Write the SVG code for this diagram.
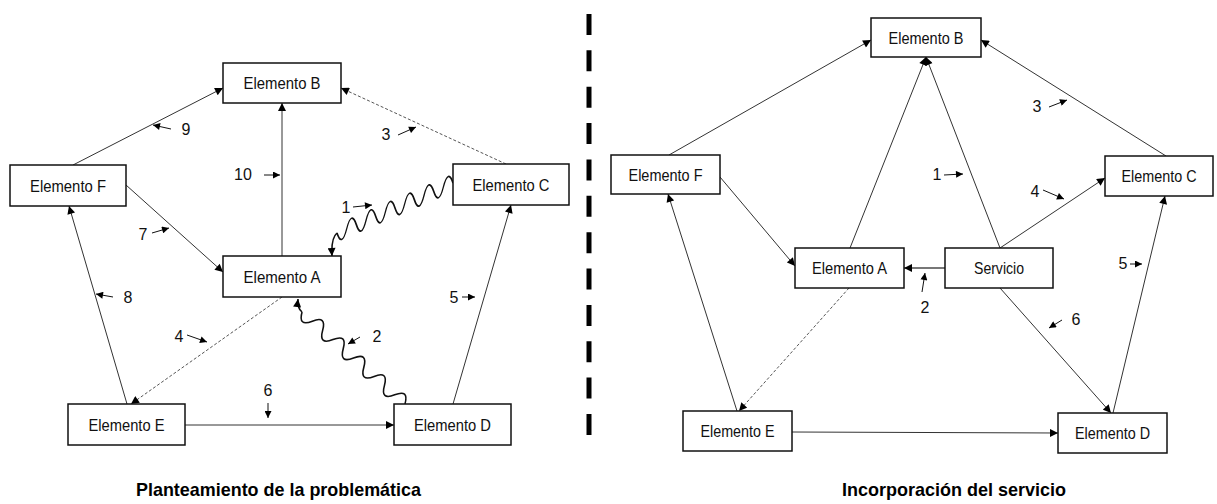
<svg xmlns="http://www.w3.org/2000/svg" width="1217" height="504" viewBox="0 0 1217 504">
  <style>
    .box { fill: #ffffff; stroke: #111111; stroke-width: 1.5; }
    .lbl { font-family: "Liberation Sans", Arial, sans-serif; font-size: 17px; fill: #111111; text-anchor: middle; }
    .num { font-family: "Liberation Sans", Arial, sans-serif; font-size: 16px; fill: #111111; text-anchor: middle; }
    .title { font-family: "Liberation Sans", Arial, sans-serif; font-size: 19px; font-weight: bold; fill: #000000; text-anchor: middle; }
    .edge { fill: none; stroke: #333333; stroke-width: 1; marker-end: url(#ah); }
    .dot { fill: none; stroke: #555555; stroke-width: 1; stroke-dasharray: 3 2; marker-end: url(#ah); }
    .wave { fill: none; stroke: #111111; stroke-width: 1.6; }
    .tick { fill: none; stroke: #111111; stroke-width: 1; marker-end: url(#sh); }
  </style>
  <defs>
    <marker id="ah" viewBox="0 0 10 10" refX="10" refY="5" markerWidth="9" markerHeight="8" markerUnits="userSpaceOnUse" orient="auto">
      <path d="M0,0 L10,5 L0,10 z" fill="#000000"/>
    </marker>
    <marker id="sh" viewBox="0 0 10 10" refX="10" refY="5" markerWidth="8" markerHeight="7" markerUnits="userSpaceOnUse" orient="auto">
      <path d="M0,0 L10,5 L0,10 z" fill="#000000"/>
    </marker>
  </defs>

  <rect width="1217" height="504" fill="#ffffff"/>

  <!-- dashed divider between the two panels -->
  <line x1="589" y1="14" x2="589" y2="435" stroke="#000000" stroke-width="5" stroke-dasharray="21 15.36"/>

  <!-- left panel connectors -->
  <g id="left-connectors">
    <path class="edge" d="M73,165 L223,88"/>
    <path class="edge" d="M282,256 L282,103"/>
    <path class="dot" d="M506,164 L341,88"/>
    <path class="edge" d="M126,185 L223,272"/>
    <path class="edge" d="M127,404 L69,206"/>
    <path class="dot" d="M282,297 L131,404"/>
    <path class="edge" d="M453,404 L511,205"/>
    <path class="edge" d="M185,425 L394,425"/>
    <!-- wavy link C to A: runs along the C-A direction, swings vertically -->
    <path class="wave" transform="matrix(-0.918,0.3955,0,1,453,183)" d="M0,0 q5.26,-17 10.53,0 t10.53,0 t10.53,0 t10.53,0 t10.53,0 t10.53,0 t10.53,0 t10.53,0 t10.53,0 t10.53,0 t10.53,0 t10.53,0"/>
    <path class="wave" d="M337,233 Q331,238 332,256" marker-end="url(#ah)"/>
    <!-- wavy link D to A -->
    <path class="wave" transform="translate(405,404) rotate(-138.2)" d="M0,0 q6.9,14 13.81,0 t13.81,0 t13.81,0 t13.81,0 t13.81,0 t13.81,0 t13.81,0 t13.81,0 t13.81,0 t13.81,0"/>
    <path class="wave" d="M302,312 Q297,308 298,299" marker-end="url(#ah)"/>
    <!-- numbered pointers -->
    <path class="tick" d="M171,129 L153,125"/>
    <path class="tick" d="M264,175 L280,175"/>
    <path class="tick" d="M398,135 L416,127"/>
    <path class="tick" d="M353,207 L372,205"/>
    <path class="tick" d="M152,233 L169,228"/>
    <path class="tick" d="M113,297 L96,294"/>
    <path class="tick" d="M187,335 L207,342"/>
    <path class="tick" d="M360,337 L348,344"/>
    <path class="tick" d="M462,297 L475,297"/>
    <path class="tick" d="M268,403 L268,418"/>
    <text class="num" x="186" y="135">9</text>
    <text class="num" x="243" y="180">10</text>
    <text class="num" x="386" y="140">3</text>
    <text class="num" x="346" y="213">1</text>
    <text class="num" x="143" y="240">7</text>
    <text class="num" x="128" y="303">8</text>
    <text class="num" x="179" y="342">4</text>
    <text class="num" x="377" y="342">2</text>
    <text class="num" x="454" y="303">5</text>
    <text class="num" x="268" y="396">6</text>
  </g>

  <!-- left panel nodes -->
  <g id="l-elemento-b"><rect class="box" x="223" y="63" width="118" height="40"/><text class="lbl" x="282" y="89" textLength="77" lengthAdjust="spacingAndGlyphs">Elemento B</text></g>
  <g id="l-elemento-f"><rect class="box" x="10" y="165" width="116" height="41"/><text class="lbl" x="68" y="191.5" textLength="76" lengthAdjust="spacingAndGlyphs">Elemento F</text></g>
  <g id="l-elemento-c"><rect class="box" x="453" y="164" width="116" height="41"/><text class="lbl" x="511" y="190.5" textLength="77" lengthAdjust="spacingAndGlyphs">Elemento C</text></g>
  <g id="l-elemento-a"><rect class="box" x="223" y="256" width="118" height="41"/><text class="lbl" x="282" y="282.5" textLength="77" lengthAdjust="spacingAndGlyphs">Elemento A</text></g>
  <g id="l-elemento-e"><rect class="box" x="68" y="404" width="117" height="41"/><text class="lbl" x="126.5" y="430.5" textLength="76" lengthAdjust="spacingAndGlyphs">Elemento E</text></g>
  <g id="l-elemento-d"><rect class="box" x="394" y="404" width="117" height="41"/><text class="lbl" x="452.5" y="430.5" textLength="77" lengthAdjust="spacingAndGlyphs">Elemento D</text></g>

  <!-- right panel connectors -->
  <g id="right-connectors">
    <path class="edge" d="M669,155 L871,40"/>
    <path class="edge" d="M850,248 L926,57"/>
    <path class="edge" d="M1000,248 L926,57"/>
    <path class="edge" d="M1166,156 L981,40"/>
    <path class="edge" d="M1000,248 L1105,178"/>
    <path class="edge" d="M720,177 L795,266"/>
    <path class="edge" d="M737,411 L668,194"/>
    <path class="dot" d="M849,288 L739,411"/>
    <path class="edge" d="M945,268 L904,268" style="stroke:#777777;stroke-width:2"/>
    <path class="edge" d="M1000,288 L1111,413"/>
    <path class="edge" d="M1113,413 L1165,196"/>
    <path class="edge" d="M792,432 L1058,433"/>
    <path class="tick" d="M944,175 L963,174"/>
    <path class="tick" d="M1049,107 L1067,100"/>
    <path class="tick" d="M1043,190 L1064,199"/>
    <path class="tick" d="M922,292 L925,273"/>
    <path class="tick" d="M1062,320 L1049,328"/>
    <path class="tick" d="M1130,264 L1142,264"/>
    <text class="num" x="937" y="180">1</text>
    <text class="num" x="1037" y="112">3</text>
    <text class="num" x="1035" y="197">4</text>
    <text class="num" x="925" y="313">2</text>
    <text class="num" x="1076" y="325">6</text>
    <text class="num" x="1123" y="269">5</text>
  </g>

  <!-- right panel nodes -->
  <g id="r-elemento-b"><rect class="box" x="871" y="18" width="110" height="39"/><text class="lbl" x="926" y="43.5" textLength="75" lengthAdjust="spacingAndGlyphs">Elemento B</text></g>
  <g id="r-elemento-f"><rect class="box" x="611" y="155" width="109" height="39"/><text class="lbl" x="665.5" y="180.5" textLength="74" lengthAdjust="spacingAndGlyphs">Elemento F</text></g>
  <g id="r-elemento-c"><rect class="box" x="1105" y="156" width="108" height="40"/><text class="lbl" x="1159" y="182" textLength="75" lengthAdjust="spacingAndGlyphs">Elemento C</text></g>
  <g id="r-elemento-a"><rect class="box" x="795" y="248" width="109" height="40"/><text class="lbl" x="849.5" y="274" textLength="75" lengthAdjust="spacingAndGlyphs">Elemento A</text></g>
  <g id="r-servicio"><rect class="box" x="945" y="248" width="108" height="40"/><text class="lbl" x="999" y="274" textLength="50" lengthAdjust="spacingAndGlyphs">Servicio</text></g>
  <g id="r-elemento-e"><rect class="box" x="683" y="411" width="109" height="40"/><text class="lbl" x="737.5" y="437" textLength="74" lengthAdjust="spacingAndGlyphs">Elemento E</text></g>
  <g id="r-elemento-d"><rect class="box" x="1058" y="413" width="109" height="40"/><text class="lbl" x="1112.5" y="439" textLength="75" lengthAdjust="spacingAndGlyphs">Elemento D</text></g>

  <!-- captions -->
  <text class="title" x="278.5" y="496" textLength="285" lengthAdjust="spacingAndGlyphs">Planteamiento de la problemática</text>
  <text class="title" x="954" y="496" textLength="224" lengthAdjust="spacingAndGlyphs">Incorporación del servicio</text>
</svg>
